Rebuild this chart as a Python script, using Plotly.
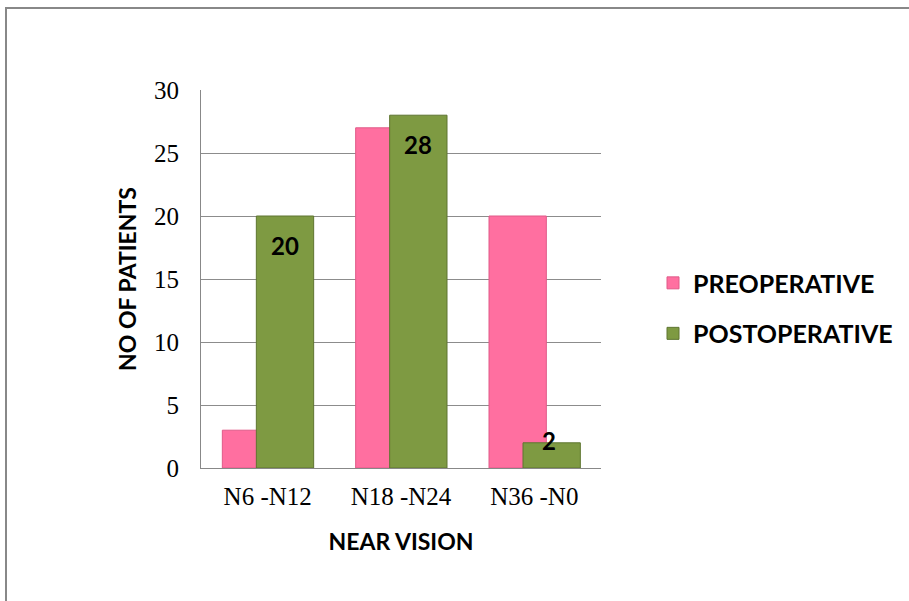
import plotly.graph_objects as go

categories = ["N6 -N12", "N18 -N24", "N36 -N0"]
preoperative = [3, 27, 20]
postoperative = [20, 28, 2]
post_labels = ["20", "28", "2"]
series_names = ["PREOPERATIVE", "POSTOPERATIVE"]
y_ticks = [0, 5, 10, 15, 20, 25, 30]

PINK = "#FF6FA0"
GREEN = "#7E9A42"
BOLD = "Lato"

fig = go.Figure()
fig.add_trace(go.Bar(
    x=categories, y=preoperative, name=series_names[0],
    width=0.43, offset=-0.34,
    marker=dict(color=PINK, line=dict(color="#E05A88", width=1)),
    legendgroup="a",
))
fig.add_trace(go.Bar(
    x=categories, y=postoperative, name=series_names[1],
    width=0.43, offset=-0.085,
    marker=dict(color=GREEN, line=dict(color="#5E7530", width=1)),
    legendgroup="b",
))

# data labels on the postoperative bars
px_per_unit = 378 / 30
annotations = []
for i, (cat, v, lab) in enumerate(zip(categories, postoperative, post_labels)):
    tall = v * px_per_unit > 50
    annotations.append(dict(
        x=i + 0.13, y=v, xref="x", yref="y", text=lab, showarrow=False,
        yanchor="top" if tall else "middle", yshift=-13 if tall else 2,
        xshift=0 if tall else -3,
        font=dict(family=BOLD, size=24, color="black", weight="bold"),
    ))

fig.update_layout(
    width=909, height=601,
    barmode="overlay",
    paper_bgcolor="white", plot_bgcolor="white",
    margin=dict(l=201, r=308, t=90, b=133, autoexpand=False),
    showlegend=True,
    legend=dict(x=1.13, y=0.423, yanchor="middle", xanchor="left",
                font=dict(family=BOLD, size=25, color="black", weight="bold"),
                tracegroupgap=15, itemwidth=30, bgcolor="rgba(0,0,0,0)"),
    xaxis=dict(
        showline=True, linecolor="#888888", linewidth=1,
        tickfont=dict(family="Liberation Serif", size=25, color="black"),
        ticks="", ticklabelstandoff=6,
        title=dict(text="NEAR VISION", standoff=24,
                   font=dict(family=BOLD, size=23, color="black", weight="bold")),
    ),
    yaxis=dict(
        range=[0, 30], tickvals=y_ticks,
        showgrid=True, gridcolor="#8C8C8C", gridwidth=1,
        showline=True, linecolor="#888888", linewidth=1,
        ticks="", ticklabelstandoff=16,
        tickfont=dict(family="Liberation Serif", size=25, color="black"),
        title=dict(text="NO OF PATIENTS", standoff=10,
                   font=dict(family=BOLD, size=23, color="black", weight="bold")),
        zeroline=False,
    ),
    annotations=annotations,
    shapes=[dict(type="rect", xref="paper", yref="paper",
                 x0=(6 - 201) / 400, x1=(912 - 201) / 400,
                 y0=(468 - 606) / 378, y1=(468 - 8) / 378,
                 line=dict(color="#888888", width=2), fillcolor="rgba(0,0,0,0)")],
)

fig.write_html("out.html")
